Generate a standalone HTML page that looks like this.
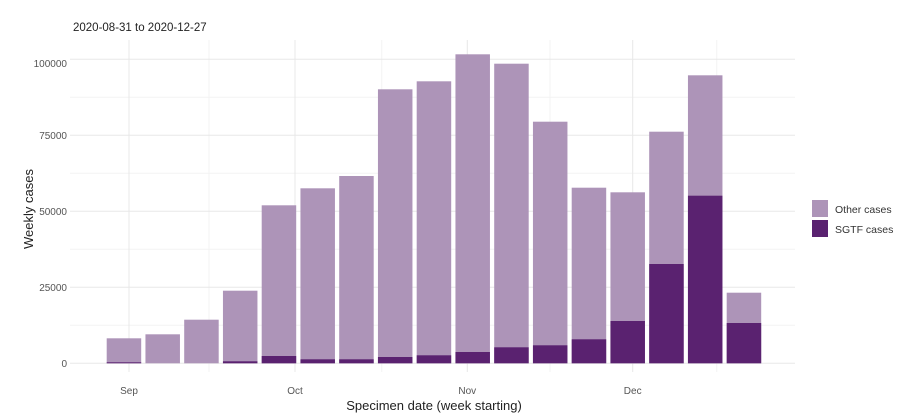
<!DOCTYPE html>
<html><head><style>html,body{margin:0;padding:0;background:#fff}svg{display:block}</style></head>
<body>
<svg width="900" height="418" viewBox="0 0 900 418" xmlns="http://www.w3.org/2000/svg" font-family="Liberation Sans, sans-serif">
<rect width="900" height="418" fill="#fff"/>
<g stroke="#f3f3f3" stroke-width="1">
<line x1="70" x2="795" y1="325.3" y2="325.3"/><line x1="70" x2="795" y1="249.3" y2="249.3"/><line x1="70" x2="795" y1="173.3" y2="173.3"/><line x1="70" x2="795" y1="97.3" y2="97.3"/>
<line x1="209" x2="209" y1="40" y2="372"/><line x1="381.7" x2="381.7" y1="40" y2="372"/><line x1="550" x2="550" y1="40" y2="372"/><line x1="716.7" x2="716.7" y1="40" y2="372"/>
</g>
<g stroke="#e8e8e8" stroke-width="1">
<line x1="70" x2="795" y1="363.3" y2="363.3"/><line x1="70" x2="795" y1="287.3" y2="287.3"/><line x1="70" x2="795" y1="211.3" y2="211.3"/><line x1="70" x2="795" y1="135.3" y2="135.3"/><line x1="70" x2="795" y1="59.3" y2="59.3"/>
<line x1="129" x2="129" y1="40" y2="372"/><line x1="295" x2="295" y1="40" y2="372"/><line x1="467.3" x2="467.3" y1="40" y2="372"/><line x1="632.7" x2="632.7" y1="40" y2="372"/>
</g>
<g id="bars"></g>
<g font-size="10" fill="#555" text-anchor="end">
<text x="67" y="67">100000</text><text x="67" y="139">75000</text><text x="67" y="215">50000</text><text x="67" y="291">25000</text><text x="67" y="367">0</text>
</g>
<g font-size="10" fill="#555" text-anchor="middle">
<text x="129" y="394">Sep</text><text x="295" y="394">Oct</text><text x="467.3" y="394">Nov</text><text x="632.7" y="394">Dec</text>
</g>
<text x="434" y="410" font-size="13" fill="#222" text-anchor="middle">Specimen date (week starting)</text>
<text transform="translate(33,209) rotate(-90)" font-size="13" fill="#222" text-anchor="middle">Weekly cases</text>
<text x="73" y="31" font-size="11.5" fill="#222">2020-08-31  to  2020-12-27</text>
<rect x="812" y="200" width="16" height="17" fill="#ad94b8"/>
<rect x="812" y="220" width="16" height="17" fill="#5a2270"/>
<text x="835" y="213" font-size="10.5" fill="#333">Other cases</text>
<text x="835" y="233" font-size="10.5" fill="#333">SGTF cases</text>
</svg>
<script>
var tops=[338.3,334.3,319.7,290.7,205.3,188.3,176,89.3,81.3,54.3,63.7,121.7,187.7,192.3,131.7,75.3,292.7];
var sg=[362.3,363.3,363.3,361.3,356,359.3,359.3,357,355.3,352,347.3,345.3,339.3,321,264,195.7,323];
var g=document.getElementById('bars'),s='',b=363.3;
for(var i=0;i<17;i++){var x=106.7+38.75*i,w=34.5;
s+='<rect x="'+x+'" y="'+tops[i]+'" width="'+w+'" height="'+(b-tops[i])+'" fill="#ad94b8"/>';
if(sg[i]<b)s+='<rect x="'+x+'" y="'+sg[i]+'" width="'+w+'" height="'+(b-sg[i])+'" fill="#5a2270"/>';}
g.innerHTML=s;
</script>
</body></html>
